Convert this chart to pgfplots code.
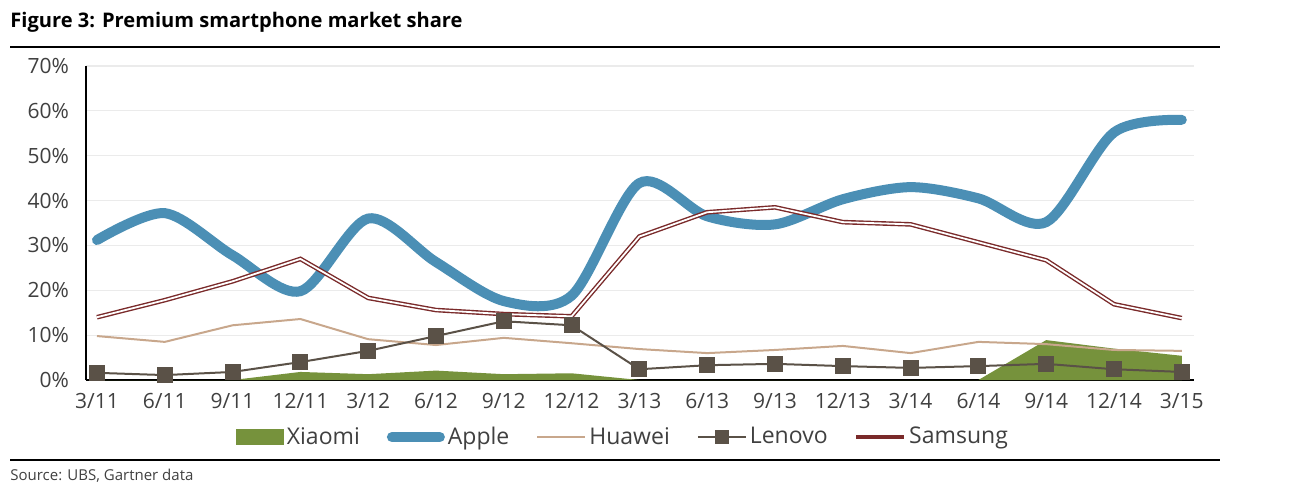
\documentclass[border=0pt]{standalone}
\usepackage{fontspec}
\setmainfont{Open Sans}
\usepackage{pgfplots}
\usepackage{pgfplotstable}
\pgfplotsset{compat=1.18}

\definecolor{applec}{HTML}{4B8FB5}
\definecolor{samsungc}{HTML}{7A2A2A}
\definecolor{huaweic}{HTML}{C8A78C}
\definecolor{lenovoc}{HTML}{5A5147}
\definecolor{xiaomic}{HTML}{76923C}
\definecolor{tickc}{HTML}{404040}
\definecolor{gridc}{HTML}{EBEBEB}

% market share in %, quarters 3/11 .. 3/15
\pgfplotstableread{
x  xiaomi apple huawei lenovo samsung
0  0      31.2  9.8    1.6    14.0
1  0      37.2  8.5    1.1    17.8
2  0      27.8  12.2   1.8    22.0
3  1.8    19.8  13.6   4.0    27.0
4  1.3    36.0  9.1    6.5    18.3
5  2.1    26.3  7.8    9.8    15.6
6  1.3    17.6  9.4    13.1   14.7
7  1.5    18.8  8.2    12.2   14.2
8  0      43.9  6.9    2.4    32.0
9  0      36.5  6.0    3.3    37.4
10 0      34.7  6.7    3.6    38.5
11 0      40.3  7.6    3.1    35.2
12 0      43.0  6.0    2.7    34.7
13 0      40.5  8.5    3.1    30.7
14 8.9    35.2  8.0    3.6    26.7
15 7.0    55.2  6.7    2.4    16.9
16 5.4    58.0  6.5    1.8    13.8
}\data

\begin{document}
\begin{tikzpicture}
\path[use as bounding box] (0,0) rectangle (656pt,-247.5pt);

\node[anchor=base west, inner sep=0pt, font=\fontsize{10.05}{12}\selectfont\bfseries]
  at (5pt,-13.5pt) {Figure 3: Premium smartphone market share};
\draw[line width=1pt] (5pt,-23.5pt) -- (610pt,-23.5pt);
\draw[line width=1pt] (5pt,-230pt) -- (610pt,-230pt);
\node[anchor=west, inner sep=0pt, text=tickc, font=\fontsize{7.5}{9}\selectfont]
  at (5pt,-238pt) {Source: UBS, Gartner data};

\begin{axis}[
    at={(43pt,-190pt)}, anchor=south west,
    scale only axis,
    width=554pt, height=157pt,
    xmin=-0.162, xmax=16.18,
    ymin=0, ymax=70,
    axis x line=bottom, axis y line=left,
    axis line style={line width=1pt, -},
    major tick length=0pt,
    ytick={0,10,...,70},
    yticklabels={0\%,10\%,20\%,30\%,40\%,50\%,60\%,70\%},
    xtick={0,...,16},
    xticklabels={3/11,6/11,9/11,12/11,3/12,6/12,9/12,12/12,3/13,6/13,9/13,12/13,3/14,6/14,9/14,12/14,3/15},
    ymajorgrids,
    grid style={gridc, line width=0.6pt},
    ticklabel style={text=tickc, font=\fontsize{10.5}{12}\selectfont},
    yticklabel style={xshift=-5pt},
    xticklabel style={yshift=-3pt},
    legend style={at={(0.485,-0.182)}, anchor=center, draw=none, fill=none,
      legend columns=5, font=\fontsize{11.5}{13}\selectfont, text=tickc,
      /tikz/every even column/.append style={column sep=12pt},
      nodes={inner sep=1.5pt}},
    legend image code/.code={\draw[mark repeat=2,mark phase=2,#1]
      plot coordinates {(0pt,0pt) (12pt,0pt) (24pt,0pt)};},
]
\addplot[fill=xiaomic, draw=none,
  legend image code/.code={\fill[xiaomic] (0pt,-4pt) rectangle (24pt,4pt);}]
  table[x=x, y=xiaomi] {\data} \closedcycle;
\addlegendentry{Xiaomi}

\addplot[applec, line width=5pt, line cap=round, smooth, no marks]
  table[x=x, y=apple] {\data};
\addlegendentry{Apple}

\addplot[huaweic, line width=1pt, no marks]
  table[x=x, y=huawei] {\data};
\addlegendentry{Huawei}

\addplot[lenovoc, line width=1pt, mark=square*, mark size=3.5pt,
  mark options={fill=lenovoc, draw=lenovoc},
  legend image code/.code={\draw[lenovoc, line width=1pt] (0pt,0pt) -- (24pt,0pt);
    \fill[lenovoc] (9pt,-3pt) rectangle (15pt,3pt);}]
  table[x=x, y=lenovo] {\data};
\addlegendentry{Lenovo}

% Samsung: dark red line with a white core
\addplot[samsungc, line width=2.3pt, no marks,
  legend image code/.code={\draw[samsungc, line width=1.8pt] (0pt,0pt) -- (24pt,0pt);}]
  table[x=x, y=samsung] {\data};
\addlegendentry{Samsung}
\addplot[white, line width=0.9pt, no marks, forget plot]
  table[x=x, y=samsung] {\data};
\end{axis}
\end{tikzpicture}
\end{document}
